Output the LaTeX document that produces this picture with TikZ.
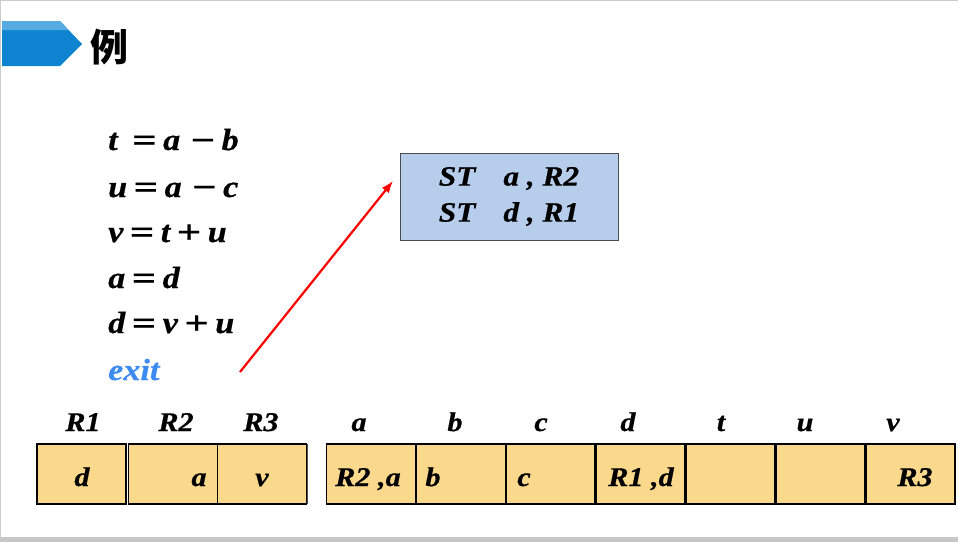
\documentclass[tikz,border=0pt]{standalone}
\usepackage{fontspec}
\setmainfont{Liberation Serif}
\newfontfamily\bi{Liberation Serif Bold Italic}[FakeStretch=1.12,FakeBold=0.6]
\newfontfamily\bup{Liberation Serif Bold}[FakeBold=0.6,FakeStretch=1.3]
\newfontfamily\cjk{Noto Sans CJK SC}
\usepackage{xcolor}
\usetikzlibrary{arrows.meta}

\definecolor{bannerdark}{RGB}{14,132,208}
\definecolor{bannerlight}{RGB}{88,170,226}
\definecolor{cellfill}{RGB}{250,217,140}
\definecolor{stfill}{RGB}{182,206,236}
\definecolor{exitblue}{RGB}{61,139,240}

\newcommand{\op}[1]{\kern6.5pt\raisebox{-1pt}{\bup\fontsize{33}{33}\selectfont #1}\kern6.5pt}

\tikzset{
  cell/.style={draw=black,line width=1.8pt,fill=cellfill,minimum width=89pt,minimum height=60pt,inner sep=0pt},
  lbl/.style={font=\bi\fontsize{27}{30}\selectfont,inner sep=0pt,anchor=base},
  code/.style={font=\bi\fontsize{30.5}{34}\selectfont,inner sep=0pt,anchor=base west},
  stbox/.style={draw=black!70,line width=1pt,fill=stfill,minimum width=218pt,minimum height=87pt,align=center,
    font=\bi\fontsize{28}{36}\selectfont},
}

\begin{document}
\begin{tikzpicture}[x=1pt,y=-1pt]
\useasboundingbox (0,0) rectangle (958,542);

% slide frame
\fill[black!22] (0,537) rectangle (958,542);
\draw[black!20,line width=1.5pt] (0,0.7) -- (958,0.7);
\draw[black!20,line width=1.5pt] (0.7,0) -- (0.7,537);

% title banner
\fill[bannerdark] (2,21) -- (60,21) -- (82,44) -- (60,66) -- (2,66) -- cycle;
\fill[bannerlight] (2,21) -- (60,21) -- (68.6,30) -- (2,30) -- cycle;
\node[font=\cjk\bfseries\fontsize{38}{40}\selectfont,inner sep=0pt] (title) at (109,47) {例};

% code lines
\foreach \y/\l/\n in {150/{t\kern8pt\op{=}a\kern4pt\op{−}b}/c1,197/{u\op{=}a\kern4pt\op{−}c}/c2,242/{v\op{=}t\op{+}u}/c3,288/{a\op{=}d}/c4,333/{d\op{=}v\op{+}u}/c5}
  \node[code] (\n) at (108,\y) {\l};
\node[code,text=exitblue] (exit) at (108,380) {exit};

% store instructions
\node[stbox] (st) at (509,196.5) {ST\quad a , R2\\ST\quad d , R1};

% red arrow
\coordinate (tail) at (240,372);
\coordinate (tip) at (393,181);
\draw[-{Latex[length=12pt,width=9pt]},red,line width=2.2pt] (tail) -- (tip);

% registers
\foreach \x/\n in {81.5/R1,173/R2,262/R3}
  \node[cell] (\n) at (\x,474) {};
\draw[black!70,line width=1pt] (307,444) -- (307,504);

% memory
\foreach \x/\n in {371/ma,460.9/mb,550.7/mc,640.6/md,730.5/mt,820.4/mu,910.3/mv}
  \node[cell] (\n) at (\x,474) {};

% names above
\foreach \x/\l/\n in {83/R1/h1,176/R2/h2,261/R3/h3,359/a/h4,455/b/h5,541/c/h6,628/d/h7,721/t/h8,805/u/h9,893/v/h10}
  \node[lbl] (\n) at (\x,431) {\l};

% contents
\foreach \x/\l/\n in {82/d/v1,199/a/v2,262/v/v3,368/{R2 ,a}/v4,433/b/v5,524/c/v6,641/{R1 ,d}/v7,915/R3/v8}
  \node[lbl] (\n) at (\x,486) {\l};
\end{tikzpicture}
\end{document}
